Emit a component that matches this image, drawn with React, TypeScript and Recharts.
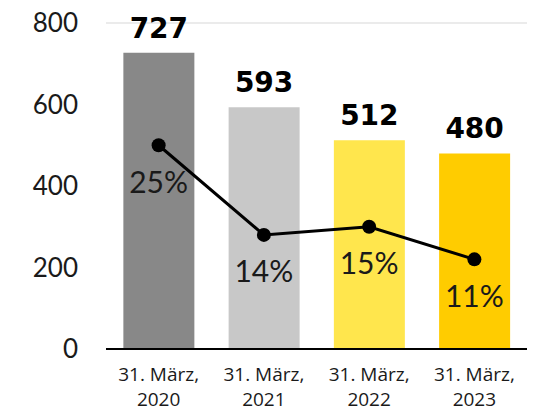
import React from 'react'
import {
  ComposedChart,
  Bar,
  Line,
  Cell,
  XAxis,
  YAxis,
  CartesianGrid,
  LabelList
} from 'recharts'

const categories = ['31. März,|2020', '31. März,|2021', '31. März,|2022', '31. März,|2023']
const totals = [727, 593, 512, 480]
const shares = [25, 14, 15, 11]
const yTicks = [0, 200, 400, 600, 800]

const barColors = ['#888888', '#c8c8c8', '#ffe64d', '#ffcc00']

const data = categories.map((c, i) => ({ name: c, total: totals[i], share: shares[i] }))

const XTick = (props: any) => {
  const { x, y, payload } = props
  const lines = String(payload.value).split('|')
  return (
    <text x={x} y={y} textAnchor='middle' fontFamily='Open Sans' fontSize={19} fill='#1a1a1a'>
      {lines.map((l, i) => (
        <tspan key={i} x={x} dy={i === 0 ? 24 : 25}>{l}</tspan>
      ))}
    </text>
  )
}

const App = () => {
  return (
    <div style={{ position: 'absolute', left: 0, top: 0 }}>
      <ComposedChart
        width={534}
        height={412}
        data={data}
        margin={{ top: 23, right: 7, bottom: 0, left: 0 }}
        barCategoryGap='16.5%'
      >
        <CartesianGrid vertical={false} stroke='#ebebeb' strokeWidth={2} />
        <XAxis
          dataKey='name'
          tick={<XTick />}
          tickLine={false}
          axisLine={{ stroke: '#000', strokeWidth: 2 }}
          height={63}
          interval={0}
        />
        <YAxis
          yAxisId='left'
          domain={[0, 800]}
          ticks={yTicks}
          width={106}
          axisLine={false}
          tickLine={false}
          tickSize={26}
          tick={{ fontFamily: 'Lato', fontSize: 26, fill: '#1a1a1a' }}
        />
        <YAxis yAxisId='pct' orientation='right' domain={[0, 40]} hide />
        <Bar yAxisId='left' dataKey='total' isAnimationActive={false}>
          {data.map((_, i) => (
            <Cell key={i} fill={barColors[i]} />
          ))}
          <LabelList
            dataKey='total'
            position='top'
            offset={15}
            style={{ fontFamily: 'DejaVu Sans', fontWeight: 700, fontSize: 28, fill: '#000' }}
          />
        </Bar>
        <Line
          yAxisId='pct'
          dataKey='share'
          stroke='#000'
          strokeWidth={3}
          dot={{ r: 7, fill: '#000', stroke: '#000', strokeWidth: 0 }}
          isAnimationActive={false}
        >
          <LabelList
            dataKey='share'
            position='bottom'
            offset={26}
            formatter={(v: any) => v + '%'}
            style={{ fontFamily: 'Lato', fontSize: 30, fill: '#1a1a1a' }}
          />
        </Line>
      </ComposedChart>
    </div>
  )
}

export default App
